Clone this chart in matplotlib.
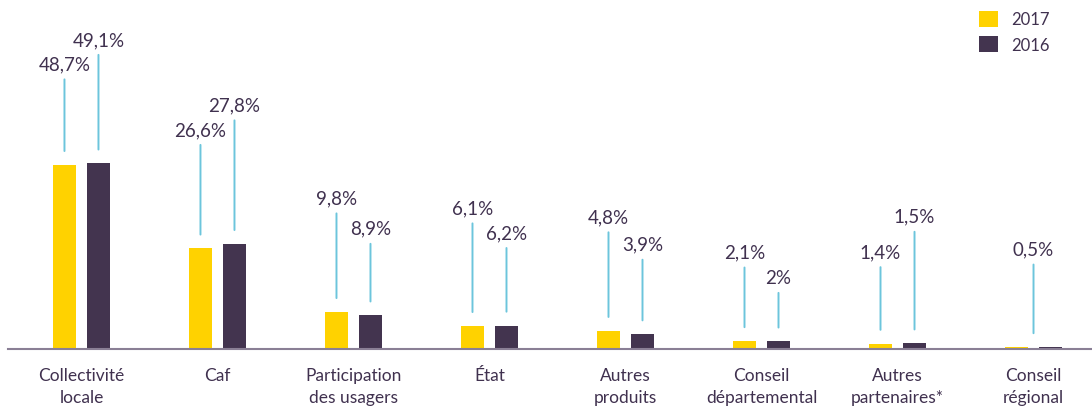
import matplotlib.pyplot as plt
import numpy as np

categories = ['Collectivité\nlocale', 'Caf', 'Participation\ndes usagers', 'État',
              'Autres\nproduits', 'Conseil\ndépartemental', 'Autres\npartenaires*',
              'Conseil\nrégional']
v2017 = [48.7, 26.6, 9.8, 6.1, 4.8, 2.1, 1.4, 0.5]
v2016 = [49.1, 27.8, 8.9, 6.2, 3.9, 2.0, 1.5, 0.5]
lab2017 = ['48,7%', '26,6%', '9,8%', '6,1%', '4,8%', '2,1%', '1,4%', '0,5%']
lab2016 = ['49,1%', '27,8%', '8,9%', '6,2%', '3,9%', '2%', '1,5%', None]

# hand-placed label heights (pixels above bar top)
lift2017 = [101, 119, 114, 118, 114, 89, 92, 98]
lift2016 = [124, 139, 87, 93, 90, 64, 127, None]

yellow = '#FFD200'
purple = '#43344F'
txt = '#40314F'
lead = '#6CC5DC'
font = 'Lato'

fig = plt.figure(figsize=(10.92, 4.10), dpi=100)
ax = fig.add_axes([0, 60 / 410, 1, 350 / 410])

x = np.arange(len(categories))
w = 0.17
off = 0.125
ax.bar(x - off, v2017, w, color=yellow, label='2017')
ax.bar(x + off, v2016, w, color=purple, label='2016')

ax.set_xlim(-0.599, 7.43)
ax.set_ylim(0, 92.6)
ax.axhline(0, xmin=8 / 1092, xmax=1, color='#8A7F95', lw=1.5, clip_on=False)

def label(xpos, val, text, lift):
    ax.annotate(text, xy=(xpos, val), xytext=(0, lift), textcoords='offset pixels',
                ha='center', va='center', fontsize=13.5, color=txt, family=font,
                arrowprops=dict(arrowstyle='-', color=lead, lw=1.4,
                                shrinkA=3, shrinkB=10))

for i in range(len(categories)):
    if lab2016[i] is None:
        # one shared label for both bars
        label(x[i], max(v2017[i], v2016[i]), lab2017[i], lift2017[i])
        continue
    label(x[i] - off, v2017[i], lab2017[i], lift2017[i])
    label(x[i] + off, v2016[i], lab2016[i], lift2016[i])

ax.set_xticks(x)
ax.set_xticklabels(categories, fontsize=12.5, color=txt, family=font, linespacing=1.45)
ax.tick_params(axis='x', length=0, pad=13)
ax.set_yticks([])
for s in ax.spines.values():
    s.set_visible(False)

leg = ax.legend(loc='upper right', bbox_to_anchor=(0.975, 1.01), frameon=False,
                handlelength=1.15, handleheight=1.15, handletextpad=0.8,
                labelspacing=0.5, prop={'family': font, 'size': 12})
for t in leg.get_texts():
    t.set_color(txt)

fig.savefig('out.png', dpi=100)
